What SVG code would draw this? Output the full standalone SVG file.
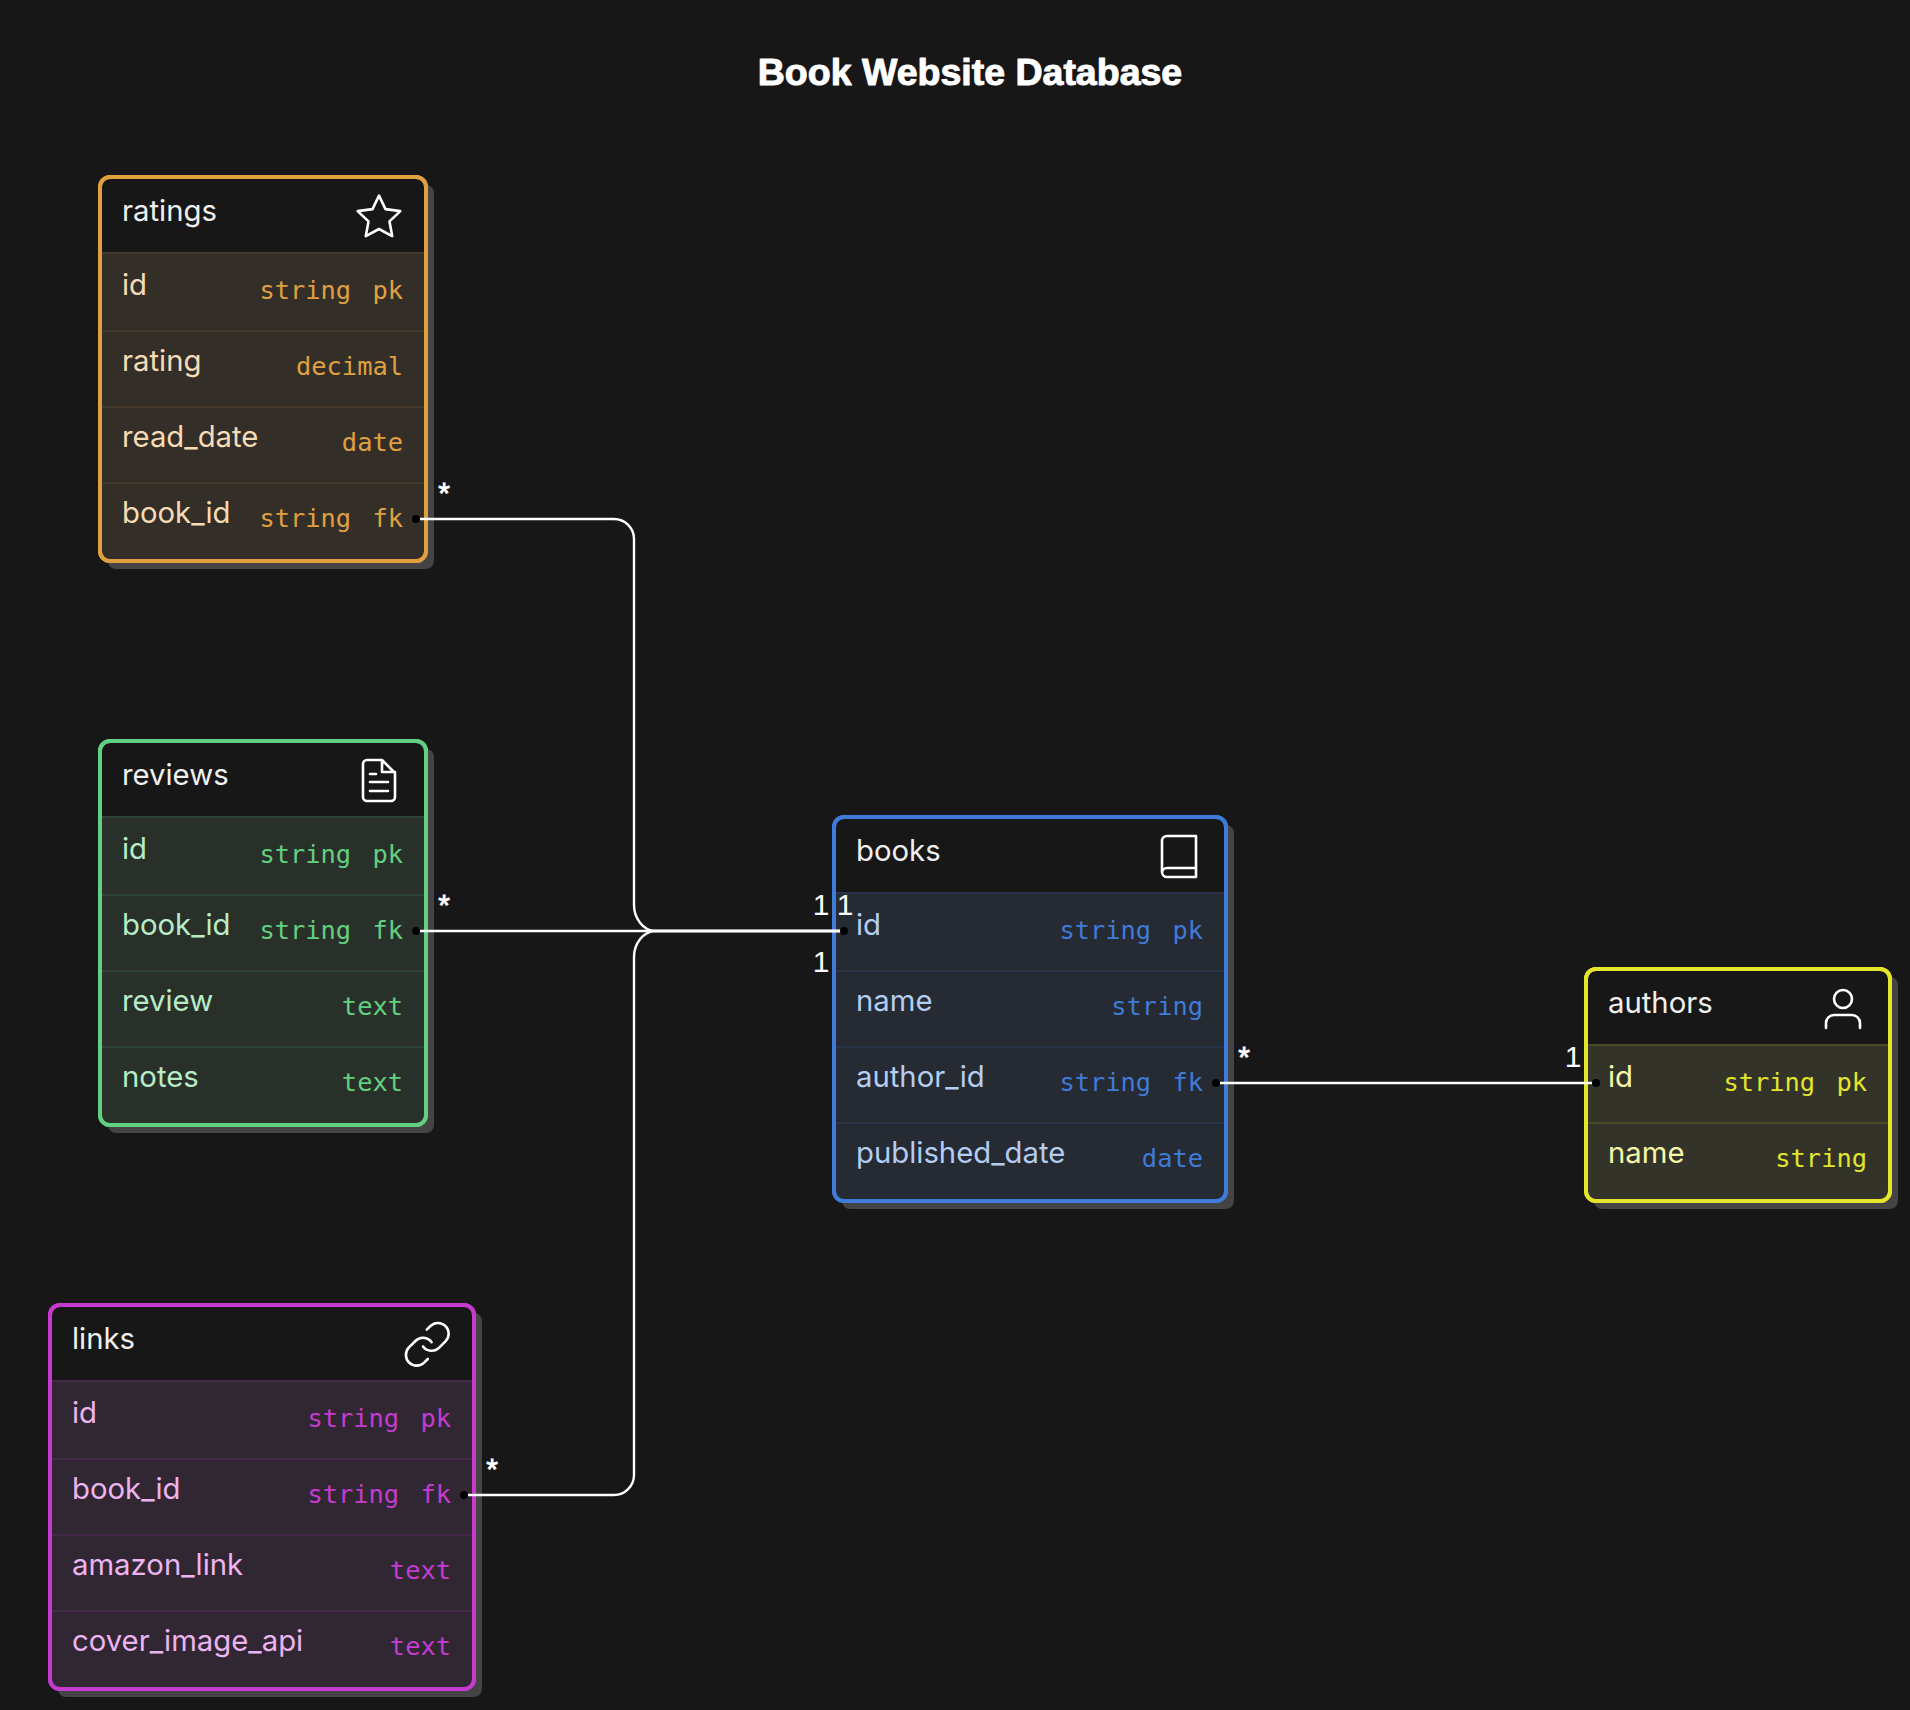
<svg xmlns="http://www.w3.org/2000/svg" width="1910" height="1710" viewBox="0 0 1910 1710">
<style>
text{white-space:pre}
.title{font:700 37.500px "Liberation Sans",Arial,sans-serif;fill:#fff;text-anchor:middle;stroke:#fff;stroke-width:1;stroke-linejoin:round}
.head{font:400 29.300px Inter,"Liberation Sans",sans-serif;fill:#f0f0f0}
.nm{font:400 29.300px Inter,"Liberation Sans",sans-serif}
.ty{font:400 25.400px "DejaVu Sans Mono","Liberation Mono",monospace;text-anchor:end;word-spacing:6px}
.card{fill:#171717;stroke-width:4}
.shadow{fill:#444}
.ic{fill:none;stroke:#fff;stroke-width:2.6;stroke-linejoin:round;stroke-linecap:round}
.sep{stroke-width:2}
.conn{fill:none;stroke:#fff;stroke-width:2.4}
.dot{fill:#000}
.lbl{font:400 30px "Liberation Sans",sans-serif;fill:#fff;text-anchor:middle}
.st{stroke:#fff;stroke-width:.8}
.o .card{stroke:#e0a03f}.o .sep{stroke:#44382a}.o .nm{fill:#f6dcb6}.o .ty{fill:#e0a03f}.o .rows{fill:#332f28}
.g .card{stroke:#62d080}.g .sep{stroke:#2e4433}.g .nm{fill:#b8ecc6}.g .ty{fill:#62d080}.g .rows{fill:#29302a}
.b .card{stroke:#3f7bd9}.b .sep{stroke:#283548}.b .nm{fill:#b4cdf2}.b .ty{fill:#3f7bd9}.b .rows{fill:#252a33}
.y .card{stroke:#e5e52b}.y .sep{stroke:#4a4a28}.y .nm{fill:#f7f7a8}.y .ty{fill:#e5e52b}.y .rows{fill:#333329}
.m .card{stroke:#c53bcf}.m .sep{stroke:#442a48}.m .nm{fill:#ecb4f0}.m .ty{fill:#c53bcf}.m .rows{fill:#312733}
</style>
<rect width="1910" height="1710" fill="#171717"/>
<text class="title" x="970" y="85">Book Website Database</text>

<g id="node-ratings" class="o">
<rect class="shadow" x="108" y="185" width="326" height="384" rx="8"/>
<rect class="card" x="100" y="177" width="326" height="384" rx="10"/>
<path class="rows" d="M102 254H424V551a8 8 0 0 1-8 8H110a8 8 0 0 1-8-8Z"/>
<path class="sep" d="M102 253H424M102 331H424M102 407H424M102 483H424"/>
<rect x="100" y="177" width="326" height="384" rx="10" fill="none" stroke="#e0a03f" stroke-width="4"/>
<text class="head" x="122" y="220.500">ratings</text>
<polygon class="ic" points="379,195.6 385.5,209.1 400.3,211.1 389.5,221.4 392.2,236.1 379,229 365.8,236.1 368.5,221.4 357.7,211.1 372.5,209.1"/>
<text class="nm" x="122" y="294.500">id</text><text class="ty" x="403" y="299">string pk</text>
<text class="nm" x="122" y="370.500">rating</text><text class="ty" x="403" y="375">decimal</text>
<text class="nm" x="122" y="446.500">read_date</text><text class="ty" x="403" y="451">date</text>
<text class="nm" x="122" y="522.500">book_id</text><text class="ty" x="403" y="527">string fk</text>
</g>

<g id="node-reviews" class="g">
<rect class="shadow" x="108" y="749" width="326" height="384" rx="8"/>
<rect class="card" x="100" y="741" width="326" height="384" rx="10"/>
<path class="rows" d="M102 818H424V1115a8 8 0 0 1-8 8H110a8 8 0 0 1-8-8Z"/>
<path class="sep" d="M102 817H424M102 895H424M102 971H424M102 1047H424"/>
<rect x="100" y="741" width="326" height="384" rx="10" fill="none" stroke="#62d080" stroke-width="4"/>
<text class="head" x="122" y="784.500">reviews</text>
<path class="ic" d="M382 760H367a4 4 0 0 0-4 4V797a4 4 0 0 0 4 4H391a4 4 0 0 0 4-4V773ZM382 760V772H395M370 774H376M370 782H388M370 791H388"/>
<text class="nm" x="122" y="858.500">id</text><text class="ty" x="403" y="863">string pk</text>
<text class="nm" x="122" y="934.500">book_id</text><text class="ty" x="403" y="939">string fk</text>
<text class="nm" x="122" y="1010.500">review</text><text class="ty" x="403" y="1015">text</text>
<text class="nm" x="122" y="1086.500">notes</text><text class="ty" x="403" y="1091">text</text>
</g>

<g id="node-books" class="b">
<rect class="shadow" x="842" y="825" width="392" height="384" rx="8"/>
<rect class="card" x="834" y="817" width="392" height="384" rx="10"/>
<path class="rows" d="M836 894H1224V1191a8 8 0 0 1-8 8H844a8 8 0 0 1-8-8Z"/>
<path class="sep" d="M836 893H1224M836 971H1224M836 1047H1224M836 1123H1224"/>
<rect x="834" y="817" width="392" height="384" rx="10" fill="none" stroke="#3f7bd9" stroke-width="4"/>
<text class="head" x="856" y="860.500">books</text>
<path class="ic" d="M1196 836H1167a5 5 0 0 0-5 5V872a5 5 0 0 0 5 5H1196ZM1196 868H1167a5 5 0 0 0-5 4.500"/>
<text class="nm" x="856" y="934.500">id</text><text class="ty" x="1203" y="939">string pk</text>
<text class="nm" x="856" y="1010.500">name</text><text class="ty" x="1203" y="1015">string</text>
<text class="nm" x="856" y="1086.500">author_id</text><text class="ty" x="1203" y="1091">string fk</text>
<text class="nm" x="856" y="1162.500">published_date</text><text class="ty" x="1203" y="1167">date</text>
</g>

<g id="node-authors" class="y">
<rect class="shadow" x="1594" y="977" width="304" height="232" rx="8"/>
<rect class="card" x="1586" y="969" width="304" height="232" rx="10"/>
<path class="rows" d="M1588 1046H1888V1191a8 8 0 0 1-8 8H1596a8 8 0 0 1-8-8Z"/>
<path class="sep" d="M1588 1045H1888M1588 1123H1888"/>
<rect x="1586" y="969" width="304" height="232" rx="10" fill="none" stroke="#e5e52b" stroke-width="4"/>
<text class="head" x="1608" y="1012.500">authors</text>
<circle class="ic" cx="1843" cy="999" r="9"/>
<path class="ic" d="M1826 1028V1023a8 8 0 0 1 8-8H1852a8 8 0 0 1 8 8V1028"/>
<text class="nm" x="1608" y="1086.500">id</text><text class="ty" x="1867" y="1091">string pk</text>
<text class="nm" x="1608" y="1162.500">name</text><text class="ty" x="1867" y="1167">string</text>
</g>

<g id="node-links" class="m">
<rect class="shadow" x="58" y="1313" width="424" height="384" rx="8"/>
<rect class="card" x="50" y="1305" width="424" height="384" rx="10"/>
<path class="rows" d="M52 1382H472V1679a8 8 0 0 1-8 8H60a8 8 0 0 1-8-8Z"/>
<path class="sep" d="M52 1381H472M52 1459H472M52 1535H472M52 1611H472"/>
<rect x="50" y="1305" width="424" height="384" rx="10" fill="none" stroke="#c53bcf" stroke-width="4"/>
<text class="head" x="72" y="1348.500">links</text>
<g transform="translate(401.500 1318.500) scale(2.150)"><path class="ic" style="stroke-width:1.2" d="M10 13a5 5 0 0 0 7.540.540l3-3a5 5 0 0 0-7.070-7.070l-1.720 1.710M14 11a5 5 0 0 0-7.540-.540l-3 3a5 5 0 0 0 7.070 7.070l1.710-1.710"/></g>
<text class="nm" x="72" y="1422.500">id</text><text class="ty" x="451" y="1427">string pk</text>
<text class="nm" x="72" y="1498.500">book_id</text><text class="ty" x="451" y="1503">string fk</text>
<text class="nm" x="72" y="1574.500">amazon_link</text><text class="ty" x="451" y="1579">text</text>
<text class="nm" x="72" y="1650.500">cover_image_api</text><text class="ty" x="451" y="1655">text</text>
</g>

<g id="connectors">
<path class="conn" d="M416 519H614a20 20 0 0 1 20 20V905C634 918 643 930.500 655 931H844"/>
<path class="conn" d="M416 931H844"/>
<path class="conn" d="M464 1495H614a20 20 0 0 0 20-20V957C634 944 643 931.500 655 931H844"/>
<path class="conn" d="M1216 1083H1596"/>
<circle class="dot" cx="416" cy="519" r="4"/>
<circle class="dot" cx="416" cy="931" r="4"/>
<circle class="dot" cx="464" cy="1495" r="4"/>
<circle class="dot" cx="844" cy="931" r="4"/>
<circle class="dot" cx="1216" cy="1083" r="4"/>
<circle class="dot" cx="1596" cy="1083" r="4"/>
<text class="lbl st" x="444" y="503">*</text>
<text class="lbl st" x="444" y="915">*</text>
<text class="lbl st" x="492" y="1479">*</text>
<text class="lbl st" x="1244" y="1067">*</text>
<text class="lbl" x="821" y="915">1</text>
<text class="lbl" x="845" y="915">1</text>
<text class="lbl" x="821" y="972">1</text>
<text class="lbl" x="1573" y="1067">1</text>
</g>
</svg>
